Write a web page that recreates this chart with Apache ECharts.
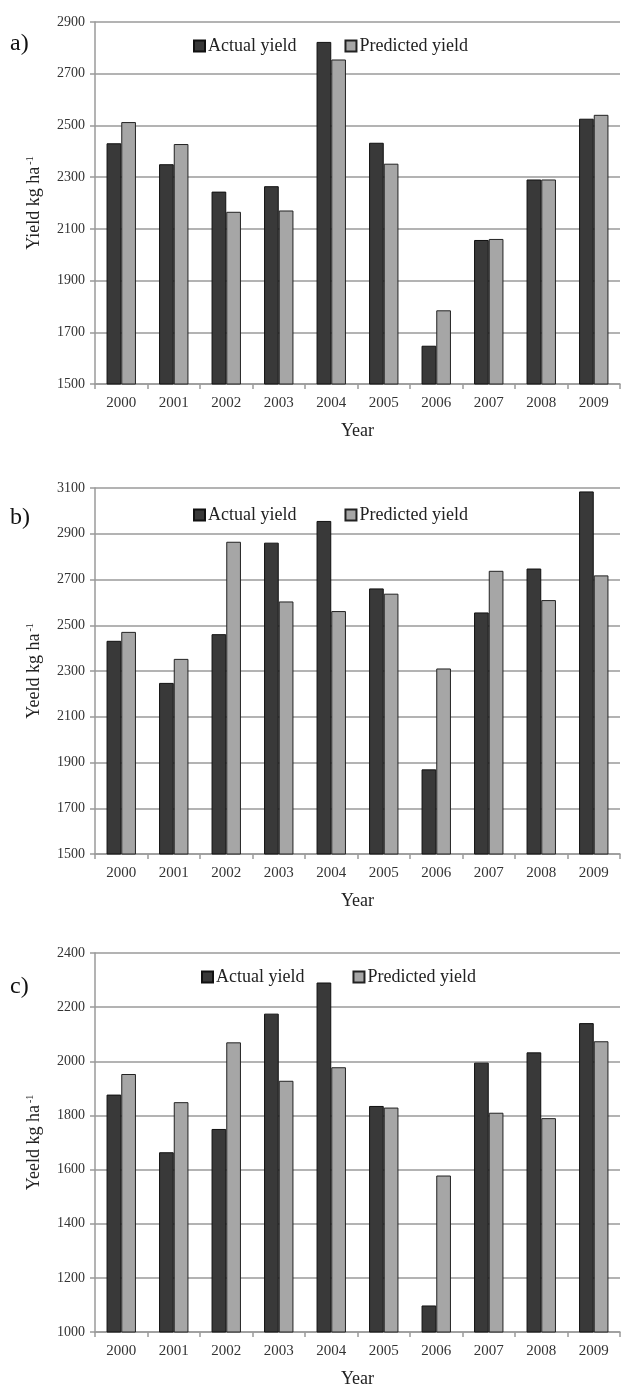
<!DOCTYPE html>
<html>
<head>
<meta charset="utf-8">
<script src="https://cdn.jsdelivr.net/npm/echarts@6/dist/echarts.min.js"></script>
<style>
html,body{margin:0;padding:0;background:#fff;}
#chart{width:621px;height:1389px;}
</style>
</head>
<body>
<div id="chart"></div>
<script>
var years = ['2000','2001','2002','2003','2004','2005','2006','2007','2008','2009'];
var actualA = [2431, 2350, 2244, 2265, 2823, 2433, 1648, 2057, 2291, 2526];
var predA   = [2513, 2428, 2166, 2171, 2755, 2352, 1785, 2061, 2291, 2541];
var actualB = [2432, 2248, 2461, 2861, 2956, 2661, 1870, 2556, 2748, 3085];
var predB   = [2471, 2353, 2865, 2604, 2562, 2638, 2311, 2738, 2610, 2718];
var actualC = [1877, 1664, 1750, 2176, 2291, 1835, 1098, 1995, 2033, 2141];
var predC   = [1953, 1849, 2070, 1928, 1978, 1829, 1578, 1810, 1790, 2074];
var ticksA = [1500, 1700, 1900, 2100, 2300, 2500, 2700, 2900];
var ticksB = [1500, 1700, 1900, 2100, 2300, 2500, 2700, 2900, 3100];
var ticksC = [1000, 1200, 1400, 1600, 1800, 2000, 2200, 2400];
var yTitles = ['Yield kg ha', 'Yeeld kg ha', 'Yeeld kg ha'];
var panelLabels = ['a)', 'b)', 'c)'];
var xTitle = 'Year';
var seriesNames = ['Actual yield', 'Predicted yield'];

var FONT = '"Liberation Serif", "DejaVu Serif", serif';
var grids = [
  {left: 95, right: 1, top: 22, height: 362},
  {left: 95, right: 1, top: 488, height: 366},
  {left: 95, right: 1, top: 953, height: 382}
];
var yRanges = [[1500, 2900, ticksA], [1500, 3100, ticksB], [1000, 2400, ticksC]];
var dataSets = [[actualA, predA], [actualB, predB], [actualC, predC]];
var legendPos = [{left: 188, top: 32}, {left: 188, top: 501}, {left: 196, top: 963}];
var labelTops = [32, 506, 975];

var xAxes = [], yAxes = [], series = [], legends = [], graphics = [];
for (var i = 0; i < 3; i++) {
  xAxes.push({
    type: 'category', gridIndex: i, data: years,
    name: xTitle, nameLocation: 'middle', nameGap: 38,
    nameTextStyle: {fontFamily: FONT, fontSize: 18, color: '#222'},
    axisLine: {lineStyle: {color: '#9a9a9a', width: 1.5}},
    axisTick: {show: true, length: 5, lineStyle: {color: '#9a9a9a', width: 1.5}},
    axisLabel: {fontFamily: FONT, fontSize: 15, color: '#333', margin: 12}
  });
  yAxes.push({
    type: 'value', gridIndex: i, min: yRanges[i][0], max: yRanges[i][1],
    name: yTitles[i] + '{s|-1}', nameLocation: 'middle', nameGap: 52,
    nameTextStyle: {fontFamily: FONT, fontSize: 18, color: '#222',
      rich: {s: {fontFamily: FONT, fontSize: 10, color: '#222', verticalAlign: 'top', padding: [0, 0, 8, 2]}}},
    axisLine: {show: true, lineStyle: {color: '#9a9a9a', width: 1.5}},
    axisTick: {show: true, length: 5, customValues: yRanges[i][2], lineStyle: {color: '#9a9a9a', width: 1.5}},
    axisLabel: {fontFamily: FONT, fontSize: 14, color: '#333', margin: 10, customValues: yRanges[i][2],
      formatter: function (v) { return String(v); }},
    splitLine: {show: true, customValues: yRanges[i][2], lineStyle: {color: '#9a9a9a', width: 1.5}}
  });
  series.push({
    name: seriesNames[0], type: 'bar', xAxisIndex: i, yAxisIndex: i,
    data: dataSets[i][0], barGap: '0%', barCategoryGap: '44%',
    itemStyle: {color: '#393939', borderColor: '#111', borderWidth: 1}
  });
  series.push({
    name: seriesNames[1], type: 'bar', xAxisIndex: i, yAxisIndex: i,
    data: dataSets[i][1], barGap: '0%', barCategoryGap: '44%',
    itemStyle: {color: '#a6a6a6', borderColor: '#222', borderWidth: 1}
  });
  legends.push({
    left: legendPos[i].left, top: legendPos[i].top, orient: 'horizontal',
    itemWidth: 11, itemHeight: 11, itemGap: 48, selectedMode: false,
    icon: 'rect',
    textStyle: {fontFamily: FONT, fontSize: 18, color: '#222', padding: [0, 0, 0, -2]},
    data: seriesNames
  });
  graphics.push({
    type: 'text', left: 10, top: labelTops[i],
    style: {text: panelLabels[i], font: '24px ' + FONT, fill: '#111'}
  });
}

var chart = echarts.init(document.getElementById('chart'), null, {renderer: 'canvas'});
chart.setOption({
  backgroundColor: '#fff',
  animation: false,
  grid: grids,
  xAxis: xAxes,
  yAxis: yAxes,
  legend: legends,
  series: series,
  graphic: graphics
});
</script>
</body>
</html>
